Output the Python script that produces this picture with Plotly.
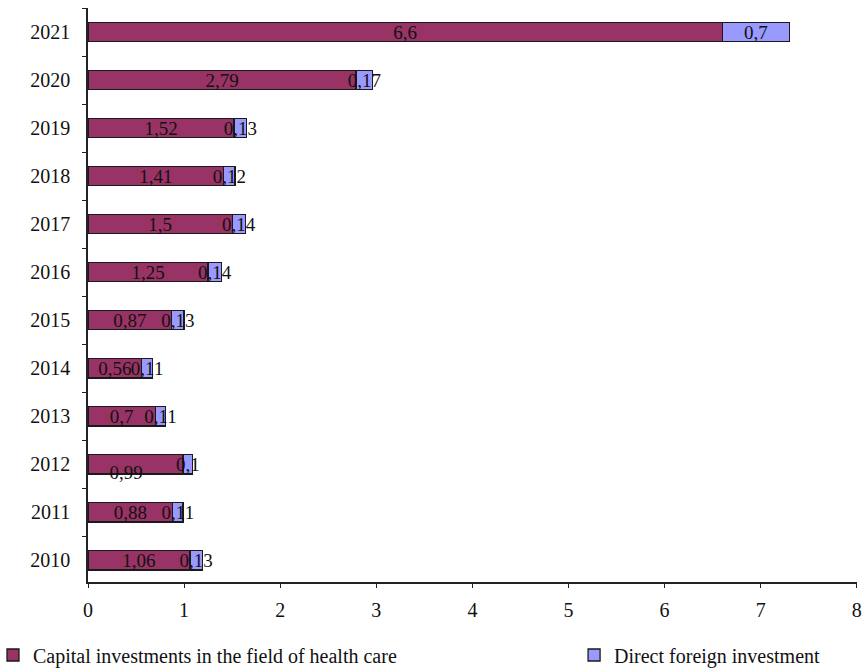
import plotly.graph_objects as go

years = ["2010", "2011", "2012", "2013", "2014", "2015", "2016", "2017", "2018", "2019", "2020", "2021"]
capital = [1.06, 0.88, 0.99, 0.7, 0.56, 0.87, 1.25, 1.5, 1.41, 1.52, 2.79, 6.6]
fdi = [0.13, 0.11, 0.1, 0.11, 0.11, 0.13, 0.14, 0.14, 0.12, 0.13, 0.17, 0.7]
x_ticks = [0, 1, 2, 3, 4, 5, 6, 7, 8]
# the 2012 capital label sits slightly below its bar in the original
offset_label_year = "2012"


def fmt(v):
    return ("%g" % v).replace(".", ",")


FONT = "Liberation Serif, Times New Roman, serif"

cap_text = [("" if y == offset_label_year else fmt(v)) for y, v in zip(years, capital)]

fig = go.Figure()
fig.add_trace(go.Bar(
    y=years, x=capital, orientation="h",
    name="Capital investments in the field of health care",
    marker=dict(color="#993366", line=dict(color="#1a1a1a", width=1.3)),
    text=cap_text, textposition="inside",
    insidetextanchor="middle", constraintext="none", textangle=0,
    textfont=dict(family=FONT, size=19, color="#111111"),
    width=0.4, legend="legend",
))
fig.add_trace(go.Bar(
    y=years, x=fdi, orientation="h",
    name="Direct foreign investment",
    marker=dict(color="#9999FF", line=dict(color="#1a1a1a", width=1.3)),
    text=[fmt(v) for v in fdi], textposition="inside",
    insidetextanchor="middle", constraintext="none", textangle=0,
    textfont=dict(family=FONT, size=19, color="#111111"),
    width=0.4, legend="legend2",
))

i12 = years.index(offset_label_year)
fig.add_trace(go.Scatter(
    x=[capital[i12] * 0.4], y=[offset_label_year], mode="text",
    text=[fmt(capital[i12])], textposition="bottom center",
    textfont=dict(family=FONT, size=19, color="#111111"),
    showlegend=False, hoverinfo="skip", cliponaxis=False,
))

legend_common = dict(
    orientation="h", xref="container", xanchor="left",
    yref="container", y=0.0209, yanchor="middle",
    bgcolor="rgba(0,0,0,0)", indentation=-7,
    font=dict(family=FONT, size=20, color="#111111"),
    itemwidth=30,
)

fig.update_layout(
    barmode="stack",
    width=866, height=669,
    margin=dict(l=88, r=9, t=8, b=87, autoexpand=False),
    plot_bgcolor="white", paper_bgcolor="white",
    font=dict(family=FONT, size=20, color="#111111"),
    showlegend=True,
    legend=dict(x=0.0, **legend_common),
    legend2=dict(x=0.671, **legend_common),
    uniformtext=dict(mode=False),
)
fig.update_xaxes(
    range=[0, 8.002], tickvals=x_ticks, ticktext=[str(t) for t in x_ticks],
    showgrid=False, zeroline=False, automargin=False,
    showline=True, linecolor="#222222", linewidth=1.5,
    ticks="outside", ticklen=4, tickcolor="#222222",
    ticklabelstandoff=5,
    tickfont=dict(family=FONT, size=20),
)
fig.update_yaxes(
    type="category", categoryorder="array", categoryarray=years,
    range=[-0.45, 11.5],
    showgrid=False, zeroline=False, automargin=False,
    showline=True, linecolor="#222222", linewidth=1.5,
    ticks="outside", ticklen=4, tickcolor="#222222", tickson="boundaries",
    ticklabelstandoff=12,
    tickfont=dict(family=FONT, size=20),
)

fig.write_html(
    "out.html",
    config={"displayModeBar": False},
    post_script="document.body.style.margin='0px';document.body.style.overflow='hidden';",
)
